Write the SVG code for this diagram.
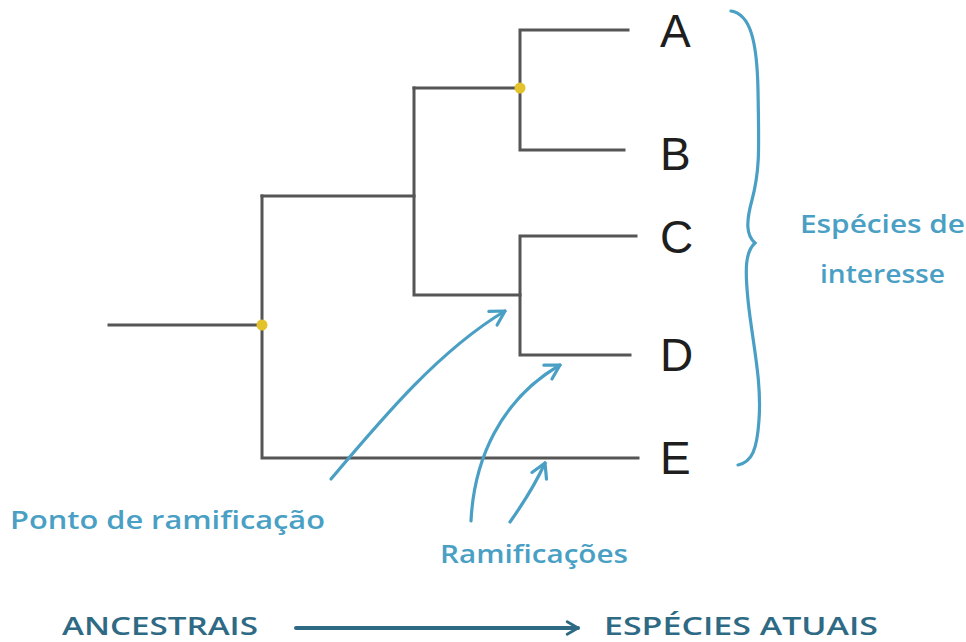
<svg xmlns="http://www.w3.org/2000/svg" width="966" height="642" viewBox="0 0 966 642">
  <style>
    .branch { fill: none; stroke: #555; stroke-width: 3; stroke-linecap: square; }
    .node-dot { fill: #e3c22b; }
    .taxon { font-family: "Liberation Sans", Arial, sans-serif; font-size: 46px; fill: #1e1e1e; }
    .note { font-family: "Open Sans", "DejaVu Sans", sans-serif; font-weight: 600; fill: #4a9fc4; }
    .axis { font-family: "Open Sans", "DejaVu Sans", sans-serif; font-weight: 600; fill: #2f6a84; }
    .pointer { fill: none; stroke: #4a9fc4; stroke-width: 3.2; stroke-linecap: round; }
  </style>
  <defs>
    <marker id="open-head" viewBox="0 0 20 20" refX="16" refY="10" markerWidth="20" markerHeight="20" markerUnits="userSpaceOnUse" orient="auto">
      <path d="M2 2 L16 10 L2 18" fill="none" stroke="#4a9fc4" stroke-width="3.2" stroke-linecap="round" stroke-linejoin="round"/>
    </marker>
    <marker id="axis-head" viewBox="0 0 20 20" refX="16" refY="10" markerWidth="18" markerHeight="18" markerUnits="userSpaceOnUse" orient="auto">
      <path d="M4 3 L16 10 L4 17" fill="none" stroke="#2f6a84" stroke-width="3.2" stroke-linecap="round" stroke-linejoin="round"/>
    </marker>
  </defs>

  <!-- tree branches -->
  <g id="connectors">
    <path class="branch" d="M109 325 H262"/>
    <path class="branch" d="M262 196 V458 H638"/>
    <path class="branch" d="M262 196 H414"/>
    <path class="branch" d="M414 88 V295 H520"/>
    <path class="branch" d="M414 88 H520"/>
    <path class="branch" d="M628 30 H520 V150 H624"/>
    <path class="branch" d="M636 236 H520 V355 H630"/>
  </g>

  <!-- branching points -->
  <g id="branch-points">
    <circle class="node-dot" cx="262" cy="325" r="5.5"/>
    <circle class="node-dot" cx="520" cy="88" r="5.5"/>
  </g>

  <!-- leaf labels -->
  <g id="taxon-A"><text class="taxon" x="660" y="47">A</text></g>
  <g id="taxon-B"><text class="taxon" x="660" y="170">B</text></g>
  <g id="taxon-C"><text class="taxon" x="660" y="253">C</text></g>
  <g id="taxon-D"><text class="taxon" x="660" y="371">D</text></g>
  <g id="taxon-E"><text class="taxon" x="660" y="474">E</text></g>

  <!-- bracket around the leaves -->
  <g id="species-bracket">
    <path class="pointer" d="M731 11 C750 14 757 40 758 90 C759 150 760 170 752 200 C746 222 746 235 755 243 C745 252 745 270 748 300 C752 340 762 380 759 420 C757 450 752 462 738 465"/>
    <text class="note" x="800" y="233" font-size="26" textLength="165" lengthAdjust="spacingAndGlyphs">Espécies de</text>
    <text class="note" x="820" y="283" font-size="26" textLength="125" lengthAdjust="spacingAndGlyphs">interesse</text>
  </g>

  <!-- annotation pointers -->
  <g id="annotation-pointers">
    <path class="pointer" d="M331 479 C385 415 440 350 505 311" marker-end="url(#open-head)"/>
    <path class="pointer" d="M471 521 C474 460 500 400 560 365" marker-end="url(#open-head)"/>
    <path class="pointer" d="M510 522 C522 505 535 485 545 463" marker-end="url(#open-head)"/>
  </g>

  <g id="label-branch-point">
    <text class="note" x="10" y="529" font-size="26" textLength="315" lengthAdjust="spacingAndGlyphs">Ponto de ramificação</text>
  </g>
  <g id="label-branches">
    <text class="note" x="440" y="563" font-size="26" textLength="188" lengthAdjust="spacingAndGlyphs">Ramificações</text>
  </g>

  <!-- time axis -->
  <g id="axis-ancestors">
    <text class="axis" x="62" y="635" font-size="26" textLength="196" lengthAdjust="spacingAndGlyphs">ANCESTRAIS</text>
  </g>
  <g id="axis-arrow">
    <path d="M296 628 H578" fill="none" stroke="#2f6a84" stroke-width="4" stroke-linecap="round" marker-end="url(#axis-head)"/>
  </g>
  <g id="axis-current">
    <text class="axis" x="604" y="635" font-size="26" textLength="274" lengthAdjust="spacingAndGlyphs">ESPÉCIES ATUAIS</text>
  </g>
</svg>
